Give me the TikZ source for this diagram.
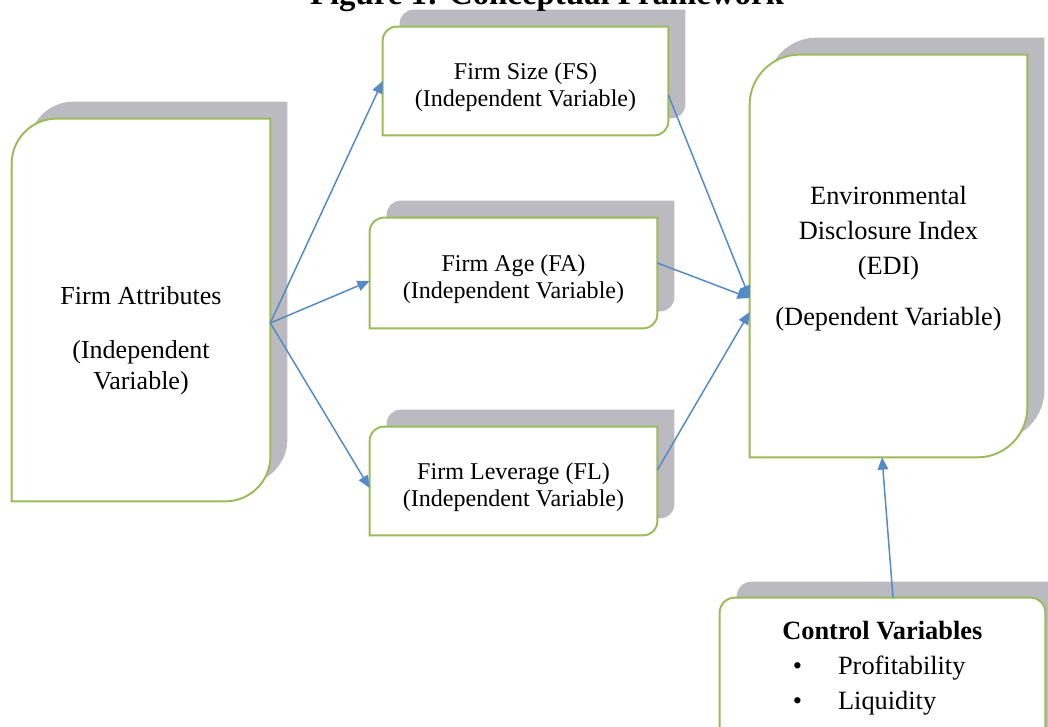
\documentclass[tikz,border=0pt]{standalone}
\usepackage{fontspec}
\setmainfont{Liberation Serif}
\usetikzlibrary{arrows.meta}
\usetikzlibrary{backgrounds}

\definecolor{boxgreen}{RGB}{155,187,89}
\definecolor{shadowgray}{RGB}{186,186,192}
\definecolor{linkblue}{RGB}{84,138,198}

% box outline: top left and bottom right corners rounded
\newcommand{\diagpath}[2]{(#1.south west) -- ([yshift=-#2]#1.north west)
  arc[start angle=180,end angle=90,radius=#2] -- (#1.north east)
  -- ([yshift=#2]#1.south east) arc[start angle=0,end angle=-90,radius=#2] -- cycle}

\tikzset{
  varbox/.style={inner sep=0pt},
  vartext/.style={inner sep=0pt, align=center, font=\fontsize{13.7}{15.4}\selectfont},
  link/.style={linkblue, line width=0.85pt, -{Triangle[length=7pt,width=6pt]}}
}

\begin{document}
\begin{tikzpicture}

    \useasboundingbox (0,0) rectangle (20.96,14.52);

    % title (cut at the top)
    \node[font=\bfseries\fontsize{18.7}{22}\selectfont, anchor=base] (title) at (10.94,14.42) {Figure 1: Conceptual Framework};

    % boxes
    \node[varbox, minimum width=5.16cm, minimum height=7.64cm] (attr) at (2.82,8.32) {};
    \node[varbox, minimum width=5.7cm, minimum height=2.16cm] (fs) at (10.51,12.90) {};
    \node[varbox, minimum width=5.74cm, minimum height=2.2cm] (fa) at (10.27,9.06) {};
    \node[varbox, minimum width=5.74cm, minimum height=2.16cm] (fl) at (10.27,4.90) {};
    \node[varbox, minimum width=5.54cm, minimum height=8.04cm] (edi) at (17.77,9.40) {};
    \node[varbox, minimum width=6.5cm, minimum height=3.24cm] (ctrl) at (17.65,0.94) {};

    % texts
    \node[vartext, font=\fontsize{14.8}{17.6}\selectfont] (attrtext) at ([yshift=-0.62cm]attr.center)
      {Firm Attributes\\[13pt](Independent\\Variable)};
    \node[vartext] (fstext) at ([yshift=-0.13cm]fs.center) {Firm Size (FS)\\(Independent Variable)};
    \node[vartext] (fatext) at ([yshift=-0.13cm]fa.center) {Firm Age (FA)\\(Independent Variable)};
    \node[vartext] (fltext) at ([yshift=-0.12cm]fl.center) {Firm Leverage (FL)\\(Independent Variable)};
    \node[vartext, font=\fontsize{15}{19.9}\selectfont] (editext) at ([yshift=-0.05cm]edi.center)
      {Environmental\\Disclosure Index\\(EDI)\\[9pt](Dependent Variable)};
    \node[vartext, align=left, anchor=north west, font=\fontsize{15}{19.9}\selectfont] (ctrltext) at (15.64,2.10)
      {\textbf{Control Variables}\\\hspace*{0.21cm}\textbullet\hspace{0.72cm}Profitability\\\hspace*{0.21cm}\textbullet\hspace{0.72cm}Liquidity};

    % shadows and outlines
    \begin{scope}[on background layer]
      \foreach \n/\r in {attr/0.9cm, fs/0.28cm, fa/0.28cm, fl/0.28cm, edi/1cm} {
        \fill[shadowgray, transform canvas={shift={(0.34,0.34)}}] \diagpath{\n}{\r};
        \filldraw[draw=boxgreen, fill=white, line width=1.1pt] \diagpath{\n}{\r};
      }
      \fill[shadowgray, transform canvas={shift={(0.34,0.32)}}] (ctrl.south west) -- ([yshift=-0.3cm]ctrl.north west)
        arc[start angle=180,end angle=90,radius=0.3cm] -- ([xshift=-0.3cm]ctrl.north east)
        arc[start angle=90,end angle=0,radius=0.3cm] -- (ctrl.south east) -- cycle;
      \filldraw[draw=boxgreen, fill=white, line width=1.1pt] (ctrl.south west) -- ([yshift=-0.3cm]ctrl.north west)
        arc[start angle=180,end angle=90,radius=0.3cm] -- ([xshift=-0.3cm]ctrl.north east)
        arc[start angle=90,end angle=0,radius=0.3cm] -- (ctrl.south east) -- cycle;
    \end{scope}

    % arrows
    \coordinate (hub) at ([yshift=-0.26cm]attr.east);
    \draw[link] (hub) -- (fs.west);
    \draw[link] (hub) -- ([yshift=-0.16cm]fa.west);
    \draw[link] (hub) -- ([yshift=-0.14cm]fl.west);
    \draw[link] ([yshift=-0.28cm]fs.east) -- ([yshift=-0.84cm]edi.west);
    \draw[link] ([yshift=0.2cm]fa.east) -- ([yshift=-0.84cm]edi.west);
    \draw[link] ([yshift=0.22cm]fl.east) -- ([yshift=-1.12cm]edi.west);
    \draw[link] ([xshift=0.21cm]ctrl.north) -- ([xshift=-0.13cm]edi.south);

\end{tikzpicture}
\end{document}
